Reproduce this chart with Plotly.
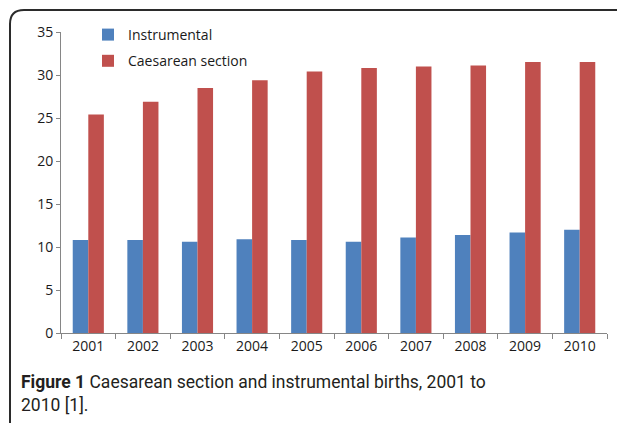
import plotly.graph_objects as go

years = ["2001", "2002", "2003", "2004", "2005", "2006", "2007", "2008", "2009", "2010"]
instrumental = [10.8, 10.8, 10.6, 10.9, 10.8, 10.6, 11.1, 11.4, 11.7, 12.0]
caesarean = [25.4, 26.9, 28.5, 29.4, 30.4, 30.8, 31.0, 31.1, 31.5, 31.5]
y_ticks = [0, 5, 10, 15, 20, 25, 30, 35]

OFF = 8  # page body margin
W, H = 625 - OFF, 423 - OFF
# target pixel positions in the window
AX_L, AX_R, AX_T, AX_B = 61, 607, 31, 333
L, R, T, B = AX_L - OFF, W - (AX_R - OFF), AX_T - OFF, H - (AX_B - OFF)
pw, ph = W - L - R, H - T - B

def px(x):
    return (x - OFF - L) / pw

def py(y):
    return (H - B - (y - OFF)) / ph

fig = go.Figure()
fig.add_trace(go.Bar(x=years, y=instrumental, name="Instrumental",
                     marker=dict(color="#4F81BD", line=dict(width=0)), legendgroup="a"))
fig.add_trace(go.Bar(x=years, y=caesarean, name="Caesarean section",
                     marker=dict(color="#C0504D", line=dict(width=0)), legendgroup="b"))

# rounded frame
x0, y0, x1, y1 = px(10), py(9), px(640), py(440)
rx, ry = 14 / pw, 14 / ph
fig.add_shape(type="path", xref="paper", yref="paper",
              path=f"M {x0},{y1} L {x0},{y0 - ry} Q {x0},{y0} {x0 + rx},{y0} L {x1},{y0}",
              line=dict(color="#2b2b2b", width=2))

cap_font = dict(family="Roboto, Noto Sans, sans-serif", size=17.5, color="#231f20")
fig.add_annotation(xref="paper", yref="paper", x=px(19), y=py(382), xanchor="left", yanchor="middle",
                   text="<b>Figure 1</b> Caesarean section and instrumental births, 2001 to",
                   showarrow=False, font=cap_font)
fig.add_annotation(xref="paper", yref="paper", x=px(19), y=py(405), xanchor="left", yanchor="middle",
                   text="2010 [1].", showarrow=False, font=cap_font)

fig.update_layout(
    width=W, height=H,
    margin=dict(l=L, r=R, t=T, b=B),
    paper_bgcolor="white", plot_bgcolor="white",
    barmode="group", bargap=0.43, bargroupgap=0,
    font=dict(family="Open Sans, DejaVu Sans, sans-serif", size=14, color="#1a1a1a"),
    legend=dict(x=px(88), y=py(19), xanchor="left", yanchor="top",
                bgcolor="rgba(0,0,0,0)", font=dict(size=14, color="#1a1a1a"),
                tracegroupgap=5, traceorder="grouped"),
    showlegend=True,
)
fig.update_xaxes(type="category", showline=True, linecolor="#868686", linewidth=1,
                 ticks="outside", tickson="boundaries", ticklen=5, tickcolor="#868686",
                 showgrid=False, tickfont=dict(size=14))
fig.update_yaxes(range=[0, 35], tickvals=y_ticks, showline=True, linecolor="#868686", linewidth=1,
                 ticks="outside", ticklen=4, tickcolor="#868686", showgrid=False, zeroline=False,
                 tickfont=dict(size=14))

fig.write_html("out.html")
